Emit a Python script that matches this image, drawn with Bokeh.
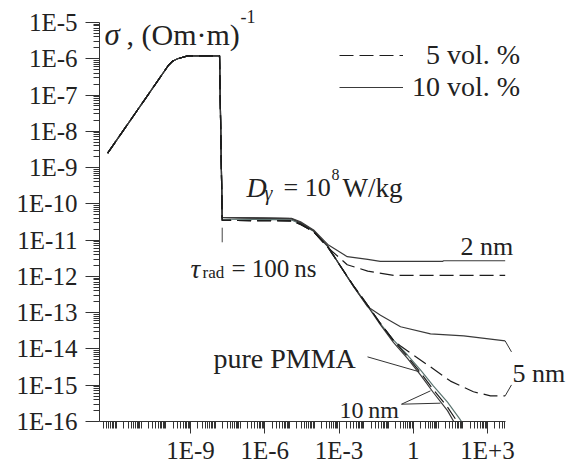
import numpy as np
from bokeh.plotting import figure
from bokeh.models import (Range1d, FixedTicker, CustomJSTickFormatter, Label,
                          Legend, LegendItem)
from bokeh.embed import file_html
from bokeh.resources import INLINE

# ---------------- data ----------------
# common part: rise during irradiation, plateau, drop at the end of the pulse
t_head = [4.5e-13, 1.29e-10, 1.87e-10, 3.0e-10, 7.7e-10, 1.49e-8]
s_head = [2.5e-9, 6.6e-7, 8.5e-7, 1.0e-6, 1.2e-6, 1.2e-6]

# 10 vol. % (solid)
t_10v_2nm = [1.91e-8, 1.2e-5, 2.8e-5, 9.4e-5, 3.5e-4, 2.15e-3, 1.45e-2, 4.65e-2, 15.5, 17.0, 5180]
s_10v_2nm = [4.2e-11, 4.0e-11, 3.2e-11, 1.9e-11, 7.6e-12, 3.5e-12, 2.95e-12, 2.6e-12, 2.6e-12, 2.7e-12, 2.7e-12]
t_10v_5nm = [1.91e-8, 1.2e-5, 2.8e-5, 9.4e-5, 3.5e-4, 1.15e-3, 3.8e-3, 1.45e-2, 4.75e-2, 0.307, 4.98, 110, 5180]
s_10v_5nm = [4.2e-11, 3.9e-11, 3.0e-11, 1.8e-11, 6.8e-12, 1.9e-12, 5.4e-13, 1.45e-13, 8.5e-14, 4.1e-14, 2.6e-14, 2.3e-14, 1.66e-14]
t_10v_10nm = [1.91e-8, 1.2e-5, 2.8e-5, 9.4e-5, 3.5e-4, 1.15e-3, 3.8e-3, 1.45e-2, 4.75e-2, 0.161, 0.585, 1.99, 6.6, 24.2, 52]
s_10v_10nm = [4.2e-11, 3.9e-11, 3.0e-11, 1.8e-11, 6.8e-12, 1.9e-12, 5.4e-13, 1.5e-13, 4.6e-14, 1.5e-14, 5.5e-15, 1.9e-15, 6.2e-16, 2.0e-16, 8e-17]

# 5 vol. % (dashed)
t_5v_2nm = [1.91e-8, 1.2e-5, 2.8e-5, 9.4e-5, 3.5e-4, 2.15e-3, 1.45e-2, 0.161, 5180]
s_5v_2nm = [3.5e-11, 3.4e-11, 2.8e-11, 1.7e-11, 6.3e-12, 2.1e-12, 1.4e-12, 1.07e-12, 1.07e-12]
t_5v_5nm = [1.91e-8, 1.2e-5, 2.8e-5, 9.4e-5, 3.5e-4, 1.15e-3, 3.8e-3, 1.45e-2, 4.75e-2, 0.161, 0.307, 4.98, 31.9, 270, 1320, 5180]
s_5v_5nm = [3.5e-11, 3.4e-11, 2.7e-11, 1.7e-11, 6.5e-12, 1.9e-12, 5.6e-13, 1.6e-13, 5.0e-14, 1.7e-14, 1.2e-14, 3.2e-15, 1.3e-15, 6.6e-16, 5.1e-16, 5.1e-16]
t_5v_10nm = [1.91e-8, 1.2e-5, 2.8e-5, 9.4e-5, 3.5e-4, 1.15e-3, 3.8e-3, 1.45e-2, 4.75e-2, 0.161, 0.585, 1.99, 6.6, 24.2, 74]
s_5v_10nm = [3.5e-11, 3.4e-11, 2.7e-11, 1.7e-11, 6.5e-12, 1.9e-12, 5.6e-13, 1.6e-13, 5.0e-14, 1.7e-14, 6.2e-15, 2.2e-15, 7.5e-16, 2.5e-16, 8e-17]

# pure PMMA
t_pmma = [1.91e-8, 1.2e-5, 2.8e-5, 9.4e-5, 3.5e-4, 1.15e-3, 3.8e-3, 1.45e-2, 4.75e-2, 0.161, 0.585, 1.99, 6.6, 24.2, 74, 110]
s_pmma = [3.8e-11, 3.6e-11, 2.8e-11, 1.75e-11, 6.6e-12, 1.9e-12, 5.5e-13, 1.55e-13, 4.9e-14, 1.75e-14, 6.8e-15, 2.6e-15, 9.5e-16, 3.4e-16, 1.2e-16, 8e-17]

# leader lines of the labels ([t0, t1], [s0, s1])
lead_pmma = ([1.42e-2, 1.79], [6.05e-15, 2.34e-15])
lead_10a = ([0.335, 4.98], [3.0e-16, 7.0e-16])
lead_10b = ([0.335, 12.6], [3.0e-16, 3.2e-16])
lead_5a = ([5180, 9300], [1.66e-14, 8.3e-15])
lead_5b = ([5180, 9300], [5.1e-16, 1.02e-15])
tau_mark = ([1.91e-8, 1.91e-8], [2.2e-11, 8.7e-12])

x_major = [1e-9, 1e-6, 1e-3, 1.0, 1e3]
y_decades = list(range(-16, -4))

# ---------------- layout ----------------
W, H = 570, 466
LEFT, RIGHT, TOP, BOTTOM = 99, 4, 2, 43
PX_DEC_X, PX_DEC_Y = 24.75, 36.45
X_1EM9 = 190          # pixel column of the 1E-9 tick
X_AXIS_END = 505      # pixel column where the time axis stops
fw, fh = W - LEFT - RIGHT, H - TOP - BOTTOM
lx0 = -9 - (X_1EM9 - LEFT) / PX_DEC_X
lx1 = lx0 + fw / PX_DEC_X
lxe = -9 + (X_AXIS_END - X_1EM9) / PX_DEC_X

p = figure(width=W, height=H, x_axis_type="log", y_axis_type="log",
           x_range=Range1d(10 ** lx0, 10 ** lx1),
           y_range=Range1d(1e-16, 10 ** (-16 + fh / PX_DEC_Y)),
           output_backend="svg", toolbar_location=None,
           min_border_left=LEFT, min_border_right=RIGHT,
           min_border_top=TOP, min_border_bottom=BOTTOM)
p.outline_line_color = None
p.grid.visible = False
p.background_fill_color = "white"

FONT = "Liberation Serif"
AX = "#333333"
for ax in (p.xaxis, p.yaxis):
    ax.axis_line_color = AX
    ax.major_tick_line_color = AX
    ax.minor_tick_line_color = AX
    ax.major_tick_in = 0
    ax.minor_tick_in = 0
    ax.major_label_text_font = FONT
    ax.major_label_text_font_size = "25px"
    ax.major_label_text_color = "#222222"

xminor = [m * 10.0 ** k for k in range(-13, 4) for m in range(1, 10)
          if lx0 - 1e-9 <= np.log10(m * 10.0 ** k) <= lxe + 1e-9]
p.xaxis.ticker = FixedTicker(ticks=x_major, minor_ticks=xminor)
p.xaxis.bounds = (10 ** lx0, 10 ** lxe)
p.xaxis.major_tick_out = 12
p.xaxis.minor_tick_out = 7
p.xaxis.major_label_standoff = 3
p.xaxis.formatter = CustomJSTickFormatter(code="""
const e = Math.round(Math.log10(tick));
if (e === 0) return "1";
return e > 0 ? "1E+" + e : "1E" + e;
""")

yminor = [m * 10.0 ** k for k in y_decades[:-1] for m in range(2, 10)]
p.yaxis.ticker = FixedTicker(ticks=[10.0 ** k for k in y_decades], minor_ticks=yminor)
p.yaxis.bounds = (1e-16, 1e-5)
p.yaxis.major_tick_out = 14
p.yaxis.minor_tick_out = 6
p.yaxis.major_label_standoff = 8
p.yaxis.formatter = CustomJSTickFormatter(code="""
const e = Math.round(Math.log10(tick));
if (e === 0) return "1";
return e > 0 ? "1E+" + e : "1E" + e;
""")

SOLID = "#3a3a3a"
DASH = "#1c1c1c"
PMMA = "#5b7470"

def curve(tt, ss, **kw):
    return p.line(t_head + tt, s_head + ss, line_width=1.2, **kw)

curve(t_pmma, s_pmma, line_color=PMMA)
r10 = curve(t_10v_2nm, s_10v_2nm, line_color=SOLID)
curve(t_10v_5nm, s_10v_5nm, line_color=SOLID)
curve(t_10v_10nm, s_10v_10nm, line_color=SOLID)
r5 = curve(t_5v_2nm, s_5v_2nm, line_color=DASH, line_dash="14 6")
curve(t_5v_5nm, s_5v_5nm, line_color=DASH, line_dash="14 6")
curve(t_5v_10nm, s_5v_10nm, line_color=DASH, line_dash="14 6")

for tt, ss in (lead_pmma, lead_10a, lead_10b, lead_5a, lead_5b):
    p.line(tt, ss, line_color="#333333", line_width=1)
p.line(tau_mark[0], tau_mark[1], line_color="#444444", line_width=1)

legend = Legend(items=[LegendItem(label="\u20075 vol. %", renderers=[r5]),
                       LegendItem(label="10 vol. %", renderers=[r10])],
                location=(240, 318), glyph_width=64, glyph_height=20,
                label_standoff=9, spacing=0, padding=0, margin=0,
                label_text_font=FONT, label_text_font_size="28px",
                label_text_color="#222222",
                border_line_alpha=0, background_fill_alpha=0)
p.add_layout(legend)

def lab(text, px, py, size="26px", style="normal"):
    p.add_layout(Label(x=px - LEFT, y=(H - BOTTOM) - py, x_units="screen", y_units="screen",
                       text=text, text_font=FONT, text_font_size=size,
                       text_font_style=style, text_color="#222222",
                       text_align="left", text_baseline="alphabetic"))

lab("\u03c3", 104, 36, "31px", "italic")
lab(", (Om\u00b7m)", 126, 36, "30px")
lab("-1", 240, 18, "18px")
lab("D", 246, 189, "28px", "italic")
lab("\u03b3", 264, 194, "20px", "italic")
lab("= 10", 283, 189, "26px")
lab("8", 331, 176, "16px")
lab("W/kg", 342, 189, "27px")
lab("\u03c4", 190, 270, "27px", "italic")
lab("rad", 202, 274, "17px")
lab("= 100\u2009ns", 231, 270, "25px")
lab("2 nm", 460, 248)
lab("5 nm", 512, 375)
lab("pure PMMA", 213, 360, "28px")
lab("10\u2009nm", 339, 411, "24px")
lab("t", 527, 443, "27px", "italic")
lab(", s", 539, 443, "27px")

open("out.html", "w").write(file_html(p, INLINE))
